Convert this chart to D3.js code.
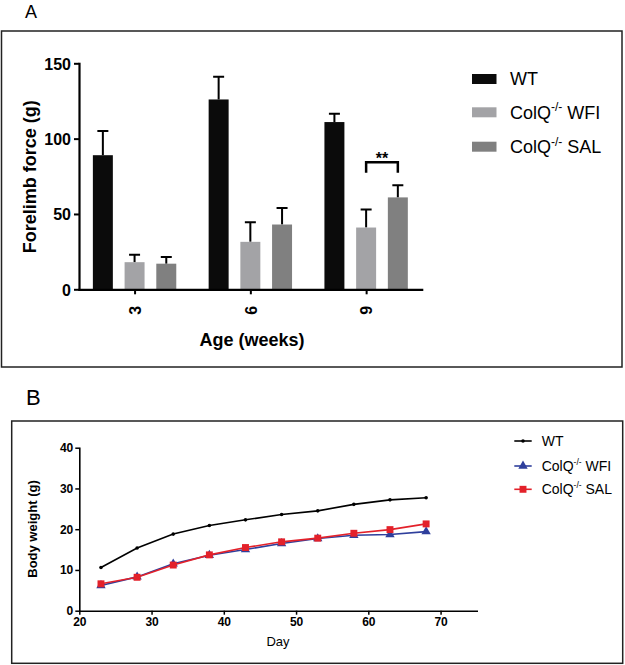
<!DOCTYPE html>
<html><head><meta charset="utf-8">
<script src="https://cdn.jsdelivr.net/npm/d3@7"></script>
<style>
body{margin:0;background:#fff}
svg{display:block}
text{font-family:"Liberation Sans",Arial,Helvetica,sans-serif}
</style>
</head><body>
<svg id="c" width="625" height="665"></svg>
<script>
// ---------- Panel A data ----------
const ages = ["3", "6", "9"];
const groupKeys = ["WT", "WFI", "SAL"];
const forceWT = [89, 126, 111];
const forceWTErr = [16, 15, 5.5];
const forceWFI = [18, 31.5, 41];
const forceWFIErr = [5, 13, 12];
const forceSAL = [17, 43, 61];
const forceSALErr = [4.5, 11, 8];
const forceTicks = [0, 50, 100, 150];
const sigAge = "9";
const sigLabel = "**";

// ---------- Panel B data ----------
const days = [23, 28, 33, 38, 43, 48, 53, 58, 63, 68];
const weightWT = [10.6, 15.4, 18.8, 20.9, 22.3, 23.6, 24.5, 26.1, 27.2, 27.7];
const weightWFI = [6.2, 8.3, 11.5, 13.6, 15.0, 16.5, 17.7, 18.5, 18.7, 19.4];
const weightSAL = [6.6, 8.2, 11.2, 13.7, 15.5, 16.9, 17.8, 19.0, 19.9, 21.3];
const weightTicks = [0, 10, 20, 30, 40];
const dayTicks = [20, 30, 40, 50, 60, 70];

// ---------- Legend labels ----------
const legendBase = ["WT", "ColQ", "ColQ"];
const legendSup = ["", "-/-", "-/-"];
const legendTail = ["", " WFI", " SAL"];

// ---------- styles ----------
const barColors = ["#0b0b0b", "#a3a3a6", "#808080"];
const lineColors = ["#000000", "#2f3f9c", "#e3212a"];

const svg = d3.select("#c");

// ================= PANEL A =================
svg.append("text").attr("x", 25).attr("y", 17.5).attr("font-size", 18).text("A");
svg.append("rect").attr("x", 1.5).attr("y", 31).attr("width", 620.5).attr("height", 336)
  .attr("fill", "none").attr("stroke", "#222").attr("stroke-width", 1.5);

const xA = d3.scalePoint().domain(ages).range([79, 421.7]).padding(0.48);
const xSub = d3.scaleBand().domain(groupKeys).range([-41.7, 41.7]).paddingInner(0.37);
const yA = d3.scaleLinear().domain([0, 150]).range([289.3, 63.3]);

const seriesA = [
  {key: "WT", mean: forceWT, err: forceWTErr},
  {key: "WFI", mean: forceWFI, err: forceWFIErr},
  {key: "SAL", mean: forceSAL, err: forceSALErr}
];
const barRows = [];
seriesA.forEach((s, si) => ages.forEach((a, i) => barRows.push({age: a, key: s.key, si, v: s.mean[i], e: s.err[i]})));

const gBars = svg.append("g");
// error bars (upper only)
gBars.selectAll("path.err").data(barRows).join("path")
  .attr("class", "err")
  .attr("d", d => {
    const cx = xA(d.age) + xSub(d.key) + xSub.bandwidth() / 2;
    const y0 = yA(d.v), y1 = yA(d.v + d.e);
    return `M${cx},${y0}V${y1}M${cx - 5.5},${y1}H${cx + 5.5}`;
  })
  .attr("fill", "none").attr("stroke", "#000").attr("stroke-width", 2);
gBars.selectAll("rect.bar").data(barRows).join("rect")
  .attr("class", "bar")
  .attr("x", d => xA(d.age) + xSub(d.key))
  .attr("y", d => yA(d.v))
  .attr("width", xSub.bandwidth())
  .attr("height", d => yA(0) - yA(d.v))
  .attr("fill", d => barColors[d.si]);

// axes A
const axAy = svg.append("g").attr("transform", `translate(79,0)`)
  .call(d3.axisLeft(yA).tickValues(forceTicks).tickSize(5).tickSizeOuter(0).tickPadding(3));
const axAx = svg.append("g").attr("transform", `translate(0,${yA(0)})`)
  .call(d3.axisBottom(xA).tickSize(5).tickSizeOuter(0));
[axAy, axAx].forEach(g => {
  g.select(".domain").attr("stroke", "#000").attr("stroke-width", 2.2).attr("stroke-linecap", "square");
  g.selectAll(".tick line").attr("stroke", "#000").attr("stroke-width", 2);
  g.selectAll(".tick text").attr("fill", "#000").attr("font-size", 16).attr("font-weight", "bold")
    .attr("font-family", '"Liberation Sans",Arial,sans-serif');
});
axAy.selectAll(".tick text").attr("dy", "0.36em");
axAx.selectAll(".tick text").attr("y", 0).attr("dy", "0.36em")
  .attr("text-anchor", "middle").attr("transform", "translate(0,21) rotate(-90)");

svg.append("text").attr("transform", "translate(36,176.7) rotate(-90)")
  .attr("text-anchor", "middle").attr("font-size", 18).attr("font-weight", "bold").text("Forelimb force (g)");
svg.append("text").attr("x", 252).attr("y", 345.5)
  .attr("text-anchor", "middle").attr("font-size", 18).attr("font-weight", "bold").text("Age (weeks)");

// significance bracket
{
  const x1 = xA(sigAge) + xSub("WFI") + xSub.bandwidth() / 2;
  const x2 = xA(sigAge) + xSub("SAL") + xSub.bandwidth() / 2;
  svg.append("path").attr("d", `M${x1},172.7V162.3H${x2}V172.7`)
    .attr("fill", "none").attr("stroke", "#000").attr("stroke-width", 2.5);
  svg.append("text").attr("x", (x1 + x2) / 2).attr("y", 163.5).attr("text-anchor", "middle")
    .attr("font-size", 16).attr("font-weight", "bold").text(sigLabel);
}

// legend A
const legA = svg.append("g");
const legARows = [79, 112.3, 146.7];
groupKeys.forEach((k, i) => {
  legA.append("rect").attr("x", 472).attr("y", legARows[i] - 5).attr("width", 24.5).attr("height", 10)
    .attr("fill", barColors[i]);
  const t = legA.append("text").attr("x", 510).attr("y", legARows[i] + 6.3).attr("font-size", 18);
  t.append("tspan").text(legendBase[i]);
  if (legendSup[i]) {
    t.append("tspan").attr("dy", -7.5).attr("font-size", 12).text(legendSup[i]);
    t.append("tspan").attr("dy", 7.5).text(legendTail[i]);
  }
});

// ================= PANEL B =================
svg.append("text").attr("x", 26).attr("y", 405).attr("font-size", 22).text("B");
svg.append("rect").attr("x", 11.7).attr("y", 421).attr("width", 611).attr("height", 242.3)
  .attr("fill", "none").attr("stroke", "#222").attr("stroke-width", 1.5);

const xB = d3.scaleLinear().domain([20, 75]).range([79.3, 476.7]);
const yB = d3.scaleLinear().domain([0, 40]).range([610.7, 447.7]);

const axBy = svg.append("g").attr("transform", `translate(${xB(20)},0)`)
  .call(d3.axisLeft(yB).tickValues(weightTicks).tickSize(4).tickSizeOuter(0).tickPadding(2));
const axBx = svg.append("g").attr("transform", `translate(0,${yB(0)})`)
  .call(d3.axisBottom(xB).tickValues(dayTicks).tickSize(4).tickSizeOuter(0).tickPadding(3));
[axBy, axBx].forEach(g => {
  g.select(".domain").attr("stroke", "#000").attr("stroke-width", 1.6).attr("stroke-linecap", "square");
  g.selectAll(".tick line").attr("stroke", "#000").attr("stroke-width", 1.5);
  g.selectAll(".tick text").attr("fill", "#000").attr("font-size", 12).attr("font-weight", "bold")
    .attr("font-family", '"Liberation Sans",Arial,sans-serif');
});
svg.append("text").attr("transform", "translate(37,529) rotate(-90)")
  .attr("text-anchor", "middle").attr("font-size", 13).attr("font-weight", "bold").text("Body weight (g)");
svg.append("text").attr("x", (xB(20) + xB(75)) / 2).attr("y", 646)
  .attr("text-anchor", "middle").attr("font-size", 13).text("Day");

const seriesB = [
  {vals: weightWT, sym: null},
  {vals: weightWFI, sym: d3.symbolTriangle},
  {vals: weightSAL, sym: d3.symbolSquare}
];
const line = d3.line().x(d => xB(d.day)).y(d => yB(d.v));
seriesB.forEach((s, si) => {
  const pts = days.map((d, i) => ({day: d, v: s.vals[i]}));
  const g = svg.append("g");
  g.append("path").datum(pts).attr("d", line).attr("fill", "none")
    .attr("stroke", lineColors[si]).attr("stroke-width", 1.6);
  if (s.sym) {
    g.selectAll("path.m").data(pts).join("path").attr("class", "m")
      .attr("transform", d => `translate(${xB(d.day)},${yB(d.v)})`)
      .attr("d", d3.symbol().type(s.sym).size(si === 1 ? 38 : 48))
      .attr("fill", lineColors[si]);
  } else {
    g.selectAll("circle").data(pts).join("circle")
      .attr("cx", d => xB(d.day)).attr("cy", d => yB(d.v)).attr("r", 1.8).attr("fill", "#000");
  }
});

// legend B
const legBRows = [441, 466, 489.3];
seriesB.forEach((s, i) => {
  const y = legBRows[i];
  svg.append("line").attr("x1", 514.3).attr("x2", 531.7).attr("y1", y).attr("y2", y)
    .attr("stroke", lineColors[i]).attr("stroke-width", 1.6);
  if (s.sym) {
    svg.append("path").attr("transform", `translate(523,${y})`)
      .attr("d", d3.symbol().type(s.sym).size(i === 1 ? 38 : 48)).attr("fill", lineColors[i]);
  } else {
    svg.append("circle").attr("cx", 523).attr("cy", y).attr("r", 1.8).attr("fill", "#000");
  }
  const t = svg.append("text").attr("x", 541.7).attr("y", y + 5).attr("font-size", 14);
  t.append("tspan").text(legendBase[i]);
  if (legendSup[i]) {
    t.append("tspan").attr("dy", -6).attr("font-size", 8.5).text(legendSup[i]);
    t.append("tspan").attr("dy", 6).text(legendTail[i]);
  }
});
</script>
</body></html>
